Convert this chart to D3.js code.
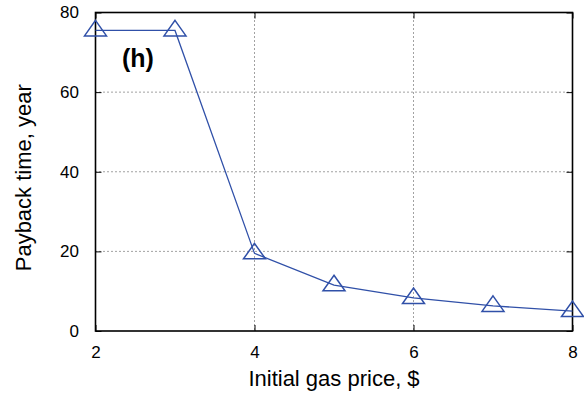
<!DOCTYPE html>
<html>
<head>
<meta charset="utf-8">
<script src="https://cdn.jsdelivr.net/npm/d3@7"></script>
<style>
  body { margin: 0; background: #fff; }
  text { font-family: "Liberation Sans", Arial, sans-serif; fill: #000; }
</style>
</head>
<body>
<div id="chart"></div>
<script>
// data
const gasPrice = [2, 3, 4, 5, 6, 7, 8];
const payback = [75.5, 75.5, 19.5, 11.5, 8.3, 6.3, 5.0];
const xTicks = [2, 4, 6, 8];
const yTicks = [0, 20, 40, 60, 80];

const width = 584, height = 393;
const margin = { left: 95.5, right: 11.5, top: 12.5, bottom: 62 };
const lineColor = "#3050a8";
const fontFam = "Liberation Sans, Arial, sans-serif";

const svg = d3.select("#chart").append("svg")
    .attr("width", width)
    .attr("height", height);

const x = d3.scaleLinear().domain([2, 8]).range([margin.left, width - margin.right]);
const y = d3.scaleLinear().domain([0, 80]).range([height - margin.bottom, margin.top]);

// dotted grid
const grid = svg.append("g")
    .attr("stroke", "#444")
    .attr("stroke-width", 1)
    .attr("stroke-dasharray", "1,3");
grid.selectAll(".gx")
    .data(xTicks.slice(1, -1))
    .join("line")
    .attr("x1", d => x(d)).attr("x2", d => x(d))
    .attr("y1", y(80)).attr("y2", y(0));
grid.selectAll(".gy")
    .data(yTicks.slice(1, -1))
    .join("line")
    .attr("x1", x(2)).attr("x2", x(8))
    .attr("y1", d => y(d)).attr("y2", d => y(d));

// axes with inward ticks
svg.append("g")
    .attr("transform", `translate(0,${y(0)})`)
    .call(d3.axisBottom(x).tickValues(xTicks).tickFormat(d3.format("d")).tickSize(-6).tickPadding(15))
    .call(g => g.select(".domain").remove())
    .call(g => g.selectAll("text").attr("font-size", 17).attr("font-family", fontFam));

svg.append("g")
    .attr("transform", `translate(0,${y(80)})`)
    .call(d3.axisTop(x).tickValues(xTicks).tickSize(-6).tickFormat(""))
    .call(g => g.select(".domain").remove());

svg.append("g")
    .attr("transform", `translate(${x(2)},0)`)
    .call(d3.axisLeft(y).tickValues(yTicks).tickSize(-6).tickPadding(16.5))
    .call(g => g.select(".domain").remove())
    .call(g => g.selectAll("text").attr("font-size", 17).attr("font-family", fontFam));

svg.append("g")
    .attr("transform", `translate(${x(8)},0)`)
    .call(d3.axisRight(y).tickValues(yTicks).tickSize(-6).tickFormat(""))
    .call(g => g.select(".domain").remove());

// frame
svg.append("rect")
    .attr("x", x(2)).attr("y", y(80))
    .attr("width", x(8) - x(2)).attr("height", y(0) - y(80))
    .attr("fill", "none")
    .attr("stroke", "#000")
    .attr("stroke-width", 1.6);

// line
const pts = gasPrice.map((g, i) => [g, payback[i]]);
svg.append("path")
    .datum(pts)
    .attr("fill", "none")
    .attr("stroke", lineColor)
    .attr("stroke-width", 1.3)
    .attr("d", d3.line().x(d => x(d[0])).y(d => y(d[1])));

// triangle markers
svg.selectAll(".marker")
    .data(pts)
    .join("path")
    .attr("fill", "none")
    .attr("stroke", lineColor)
    .attr("stroke-width", 1.5)
    .attr("d", d => {
        const cx = x(d[0]), cy = y(d[1]);
        return `M${cx},${cy - 10}L${cx + 11},${cy + 5.5}L${cx - 11},${cy + 5.5}Z`;
    });

// panel label
svg.append("text")
    .attr("x", 122).attr("y", 67)
    .attr("font-size", 25)
    .attr("font-weight", "bold")
    .text("(h)");

// axis titles
svg.append("text")
    .attr("x", (x(2) + x(8)) / 2)
    .attr("y", 386)
    .attr("text-anchor", "middle")
    .attr("font-size", 22)
    .text("Initial gas price, $");

svg.append("text")
    .attr("transform", `translate(31,${(y(0) + y(80)) / 2 + 6}) rotate(-90)`)
    .attr("text-anchor", "middle")
    .attr("font-size", 22)
    .text("Payback time, year");
</script>
</body>
</html>
